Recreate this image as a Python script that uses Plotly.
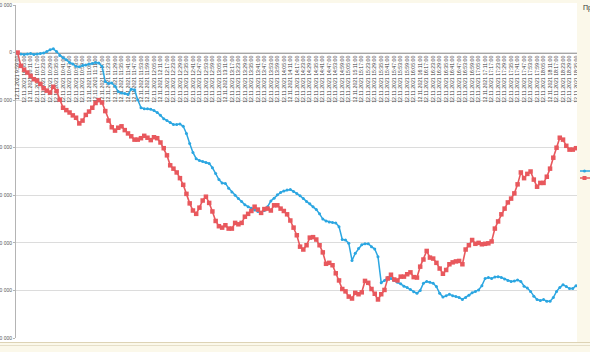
import plotly.graph_objects as go

# ---- data ----
blue_values = [
    -2000, -3000, -4000, -3000, -2000, -4000, -3000, -2000, -1000, 2000,
    6000, 8000, 2000, -6000, -11000, -15000, -21000, -24000, -29000, -30000,
    -27000, -26000, -24000, -23000, -21000, -22000, -29000, -61000, -65000, -64000,
    -71000, -82000, -85000, -86000, -88000, -77000, -78000, -99000, -116000, -118000,
    -118000, -119000, -122000, -126000, -132000, -139000, -143000, -147000, -151000, -151000,
    -150000, -155000, -170000, -191000, -210000, -223000, -227000, -229000, -231000, -233000,
    -242000, -254000, -267000, -274000, -275000, -285000, -293000, -300000, -307000, -313000,
    -320000, -324000, -327000, -331000, -334000, -336000, -332000, -324000, -312000, -306000,
    -299000, -294000, -291000, -289000, -288000, -292000, -296000, -301000, -307000, -313000,
    -318000, -324000, -330000, -339000, -350000, -354000, -356000, -357000, -358000, -366000,
    -393000, -394000, -401000, -437000, -422000, -412000, -404000, -402000, -402000, -408000,
    -413000, -429000, -484000, -479000, -473000, -475000, -479000, -483000, -486000, -491000,
    -494000, -498000, -503000, -506000, -500000, -485000, -481000, -483000, -485000, -492000,
    -506000, -514000, -511000, -508000, -511000, -513000, -515000, -519000, -515000, -510000,
    -505000, -502000, -499000, -490000, -475000, -473000, -475000, -472000, -471000, -473000,
    -476000, -479000, -481000, -480000, -478000, -481000, -491000, -495000, -502000, -512000,
    -519000, -521000, -519000, -523000, -523000, -515000, -502000, -494000, -488000, -492000,
    -496000, -496000, -490000,
]

red_values = [
    0, -28000, -36000, -42000, -49000, -56000, -59000, -66000, -75000, -80000,
    -84000, -72000, -81000, -99000, -116000, -121000, -126000, -132000, -137000, -149000,
    -143000, -131000, -124000, -116000, -106000, -100000, -105000, -123000, -143000, -157000,
    -164000, -158000, -155000, -163000, -170000, -176000, -183000, -183000, -180000, -175000,
    -179000, -184000, -178000, -180000, -189000, -201000, -216000, -237000, -244000, -252000,
    -264000, -278000, -297000, -317000, -332000, -339000, -326000, -311000, -303000, -316000,
    -334000, -354000, -365000, -368000, -363000, -370000, -370000, -358000, -361000, -358000,
    -345000, -339000, -333000, -324000, -330000, -337000, -329000, -328000, -332000, -321000,
    -321000, -328000, -333000, -340000, -353000, -368000, -384000, -408000, -414000, -405000,
    -389000, -388000, -393000, -405000, -420000, -444000, -442000, -447000, -464000, -479000,
    -497000, -502000, -513000, -517000, -505000, -508000, -504000, -480000, -484000, -497000,
    -507000, -519000, -508000, -499000, -475000, -467000, -477000, -479000, -471000, -471000,
    -466000, -462000, -472000, -473000, -450000, -435000, -417000, -431000, -433000, -442000,
    -454000, -465000, -457000, -445000, -441000, -439000, -438000, -445000, -414000, -405000,
    -394000, -402000, -400000, -403000, -402000, -401000, -397000, -370000, -355000, -340000,
    -328000, -315000, -307000, -296000, -277000, -252000, -264000, -255000, -250000, -267000,
    -282000, -274000, -274000, -261000, -244000, -221000, -200000, -179000, -183000, -196000,
    -204000, -204000, -201000,
]

series_names = ["Стратегия 1", "Стратегия 2"]
start_minutes = 9 * 60 + 59
step_minutes = 3
times = [
    f"12.11.2021 {(start_minutes + step_minutes * i) // 60}:{(start_minutes + step_minutes * i) % 60:02d}:00"
    for i in range(len(blue_values))
]
tick_labels = times[::2]

y_tickvals = [100000, 0, -100000, -200000, -300000, -400000, -500000, -600000]

# ---- layout helpers (pixels -> paper) ----
W, H = 590, 352
ML, MR, MT, MB = 16, 13, 5, 14
PW, PH = W - ML - MR, H - MT - MB


def px_x(px):
    return (px - ML) / PW


def px_y(py):
    return (H - MB - py) / PH


BLUE = "#2ba6e1"
RED = "#e8585d"
BEIGE = "#fbf8ea"

fig = go.Figure()
fig.add_trace(go.Scatter(
    x=times, y=blue_values, name=series_names[0], mode="lines+markers",
    line=dict(color=BLUE, width=1.5),
    marker=dict(color=BLUE, size=3, symbol="circle"),
    showlegend=False,
))
fig.add_trace(go.Scatter(
    x=times, y=red_values, name=series_names[1], mode="lines+markers",
    line=dict(color=RED, width=1.6),
    marker=dict(color=RED, size=4.5, symbol="square"),
    showlegend=False,
))

shapes = [
    # cream frame around the white chart area
    dict(type="rect", xref="paper", yref="paper", x0=px_x(0), x1=px_x(W), y0=px_y(3), y1=px_y(-2),
         fillcolor=BEIGE, line_width=0, layer="above"),
    dict(type="rect", xref="paper", yref="paper", x0=px_x(577), x1=px_x(W + 2), y0=px_y(H + 2), y1=px_y(-2),
         fillcolor=BEIGE, line_width=0, layer="above"),
    dict(type="rect", xref="paper", yref="paper", x0=px_x(-2), x1=px_x(W + 2), y0=px_y(H + 2), y1=px_y(342),
         fillcolor=BEIGE, line_width=0, layer="above"),
    dict(type="line", xref="paper", yref="paper", x0=px_x(-2), x1=px_x(W + 2), y0=px_y(342.5), y1=px_y(342.5),
         line=dict(color="#ddd3b5", width=1), layer="above"),
    dict(type="line", xref="paper", yref="paper", x0=px_x(-2), x1=px_x(W + 2), y0=px_y(345.5), y1=px_y(345.5),
         line=dict(color="#e6dfc8", width=1), layer="above"),
    # legend keys (names run off the right edge)
    dict(type="line", xref="paper", yref="paper", x0=px_x(580), x1=px_x(592), y0=px_y(171), y1=px_y(171),
         line=dict(color=BLUE, width=1.5), layer="above"),
    dict(type="circle", xref="paper", yref="paper", x0=px_x(583), x1=px_x(586), y0=px_y(172.5), y1=px_y(169.5),
         fillcolor=BLUE, line_width=0, layer="above"),
    dict(type="line", xref="paper", yref="paper", x0=px_x(580), x1=px_x(592), y0=px_y(178), y1=px_y(178),
         line=dict(color=RED, width=1.5), layer="above"),
    dict(type="rect", xref="paper", yref="paper", x0=px_x(582.5), x1=px_x(586.5), y0=px_y(180), y1=px_y(176),
         fillcolor=RED, line_width=0, layer="above"),
]

annotations = [
    dict(text="Прибыль", xref="paper", yref="paper", x=px_x(581), y=px_y(2), xanchor="left", yanchor="top",
         showarrow=False, font=dict(family="Liberation Sans", size=7, color="#333333")),
    dict(text=series_names[0], xref="paper", yref="paper", x=px_x(593), y=px_y(171), xanchor="left",
         yanchor="middle", showarrow=False, font=dict(family="Liberation Sans", size=7, color="#333333")),
    dict(text=series_names[1], xref="paper", yref="paper", x=px_x(593), y=px_y(178), xanchor="left",
         yanchor="middle", showarrow=False, font=dict(family="Liberation Sans", size=7, color="#333333")),
]

fig.update_layout(
    template="none",
    width=W, height=H,
    margin=dict(l=ML, r=MR, t=MT, b=MB, pad=0, autoexpand=False),
    paper_bgcolor="white",
    plot_bgcolor="white",
    separators=", ",
    showlegend=False,
    shapes=shapes,
    annotations=annotations,
    xaxis=dict(
        type="category",
        range=[-0.5, len(times) - 0.7],
        tickmode="array", tickvals=tick_labels, ticktext=tick_labels,
        tickangle=-90,
        tickfont=dict(family="Liberation Sans", size=5.2, color="#3a3a3a"),
        showgrid=False, zeroline=False,
        showline=True, linecolor="#a6a6a6", linewidth=1,
        ticks="",
        anchor="free", position=6 / 7, side="bottom",
        layer="below traces",
        automargin=False,
    ),
    yaxis=dict(
        range=[-600000, 100000],
        tickmode="array", tickvals=y_tickvals,
        tickformat=",d",
        tickfont=dict(family="Liberation Sans", size=5, color="#555555"),
        showgrid=True, gridcolor="#dcdcdc", gridwidth=1,
        zeroline=False,
        showline=True, linecolor="#b4b4b4", linewidth=1,
        ticks="outside", ticklen=2, tickcolor="#b4b4b4",
        automargin=False,
        layer="below traces",
    ),
)

fig.write_html("out.html")
